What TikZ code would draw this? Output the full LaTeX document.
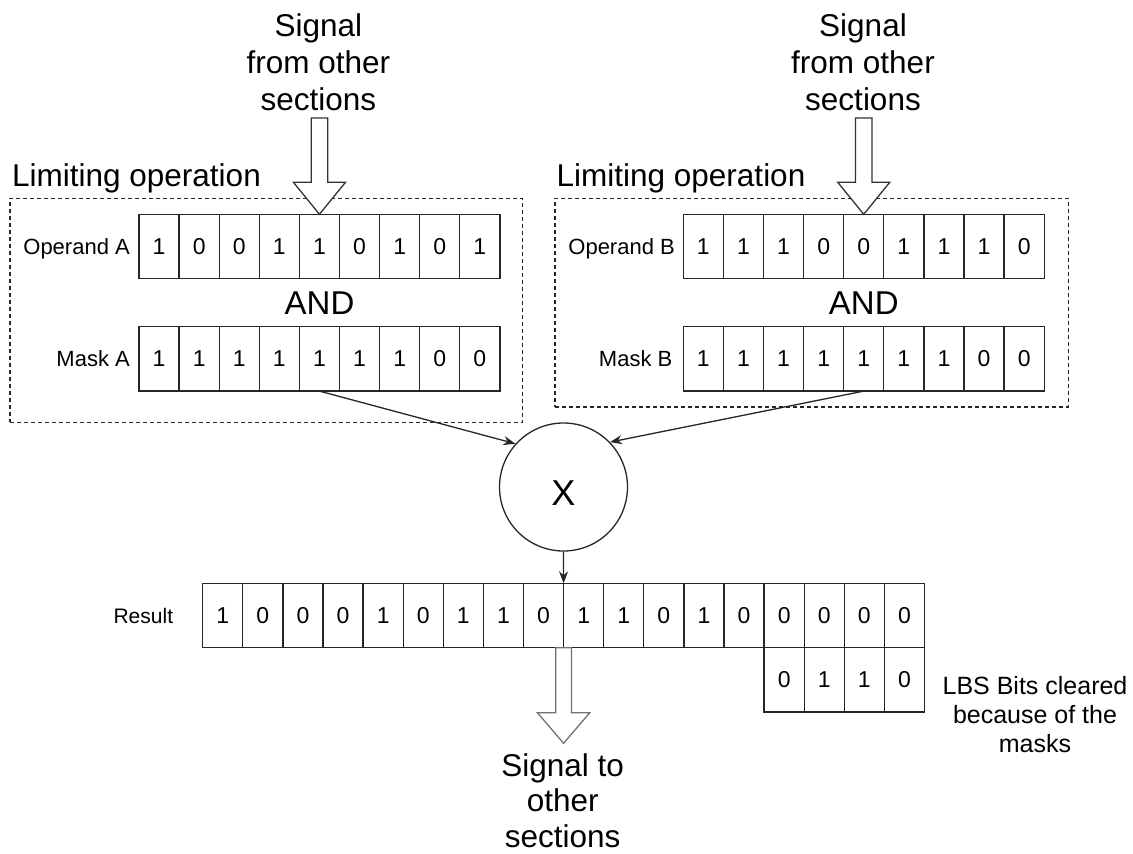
\documentclass[tikz,border=0pt]{standalone}
\usepackage{fontspec}
\setmainfont{Liberation Sans}
\usetikzlibrary{arrows.meta}

\begin{document}
\begin{tikzpicture}[x=1pt,y=-1pt,
  bit/.style={draw=black!85, line width=1.3pt, minimum width=40.1pt, minimum height=64.4pt,
    inner sep=0pt, outer sep=0pt, font=\fontsize{23}{27}\selectfont},
  rowlabel/.style={anchor=base east, inner sep=0pt, font=\fontsize{22}{26}\selectfont},
  bigtxt/.style={align=center, inner sep=0pt, font=\fontsize{31.5}{37}\selectfont},
  title/.style={anchor=base west, inner sep=0pt, font=\fontsize{31.5}{37}\selectfont},
  andtxt/.style={inner sep=0pt, font=\fontsize{33}{38}\selectfont},
  section/.style={draw=black!85, line width=1.2pt, dash pattern=on 4pt off 3pt,
    anchor=north west, inner sep=0pt, outer sep=0pt},
  link/.style={draw=black!85, line width=1.3pt, -{Stealth[length=12pt,width=9pt]}},
  hollow/.style={draw=black!80, line width=1.3pt, fill=white, line join=miter},
]
\useasboundingbox (0,0) rectangle (1133,854);

% limiting operation frames
\node[section, minimum width=512.7pt, minimum height=224pt] (secA) at (10,198.3) {};
\node[section, minimum width=513.3pt, minimum height=208.7pt] (secB) at (555,198.3) {};
\node[title] (titA) at (12,186.7) {Limiting operation};
\node[title] (titB) at (556.5,186.4) {Limiting operation};

% operand and mask registers
\foreach \v [count=\i] in {1,0,0,1,1,0,1,0,1}
  \node[bit] (oa\i) at ({139+(\i-0.5)*40.1},246.5) {\v};
\foreach \v [count=\i] in {1,1,1,1,1,1,1,0,0}
  \node[bit] (ma\i) at ({139+(\i-0.5)*40.1},358.9) {\v};
\foreach \v [count=\i] in {1,1,1,0,0,1,1,1,0}
  \node[bit] (ob\i) at ({683.3+(\i-0.5)*40.1},246.5) {\v};
\foreach \v [count=\i] in {1,1,1,1,1,1,1,0,0}
  \node[bit] (mb\i) at ({683.3+(\i-0.5)*40.1},358.9) {\v};

\node[rowlabel] (labOA) at (130,254.4) {Operand A};
\node[rowlabel] (labMA) at (130,366.8) {Mask A};
\node[rowlabel] (labOB) at (675,254.4) {Operand B};
\node[rowlabel] (labMB) at (672.5,366.8) {Mask B};

\node[andtxt] (andA) at (319.5,303.3) {AND};
\node[andtxt] (andB) at (863.8,303.3) {AND};

% incoming signals
\node[bigtxt, anchor=north] (srcA) at (318.3,13) {Signal\\from other\\sections};
\node[bigtxt, anchor=north] (srcB) at (863,13) {Signal\\from other\\sections};
\draw[hollow] (oa5.north) -- ++(-26,-32) -- ++(17.7,0) -- ++(0,-64.3) -- ++(16.6,0)
  -- ++(0,64.3) -- ++(17.7,0) -- cycle;
\draw[hollow] (ob5.north) -- ++(-26,-32) -- ++(17.7,0) -- ++(0,-64.3) -- ++(16.6,0)
  -- ++(0,64.3) -- ++(17.7,0) -- cycle;

% multiplier
\node[circle, draw=black!85, line width=1.3pt, minimum size=128pt, inner sep=0pt,
  font=\fontsize{36}{40}\selectfont, text height=36pt, text depth=0pt] (mul) at (563.5,487) {X};

% result register
\foreach \v [count=\i] in {1,0,0,0,1,0,1,1,0,1,1,0,1,0,0,0,0,0}
  \node[bit] (r\i) at ({202.7+(\i-0.5)*40.1},615.5) {\v};
\foreach \v [count=\i] in {0,1,1,0}
  \node[bit] (lb\i) at ({764.1+(\i-0.5)*40.1},679.7) {\v};
\node[rowlabel, font=\fontsize{21}{25}\selectfont] (labR) at (173.3,623) {Result};

\node[align=center, inner sep=0pt, anchor=north, font=\fontsize{25}{29}\selectfont] (note)
  at (1035,676.5) {LBS Bits cleared\\because of the\\masks};

% connectors
\draw[link] (ma5.south) -- (mul.138);
\draw[link] (mb5.south) -- (mul.44);
\draw[link] (mul.south) -- (r9.north east);

% outgoing signal
\draw[hollow, draw=black!55] (r9.south east) ++(-7.9,0) -- ++(0,65) -- ++(-18.3,0)
  -- ++(26.2,30.6) -- ++(26.2,-30.6) -- ++(-18.3,0) -- ++(0,-65) -- cycle;
\node[bigtxt, anchor=north, font=\fontsize{31.5}{35.5}\selectfont] (dest) at (562.7,753)
  {Signal to\\other\\sections};
\end{tikzpicture}
\end{document}
